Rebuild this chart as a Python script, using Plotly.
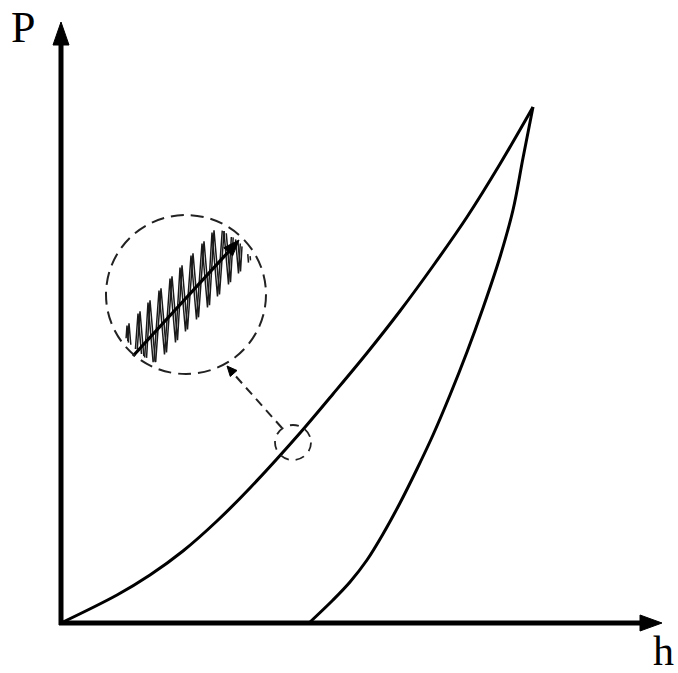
import math
import plotly.graph_objects as go

# ---- data (h, P) in drawing units; origin at the axes corner ----
load_h = [0, 56, 89, 122, 156, 189, 239, 272, 306, 339, 372, 406, 439, 472]
load_P = [0, 28, 48, 72, 102, 135, 190, 229, 270, 312, 357, 406, 459, 516]

unload_h = [248, 272, 289, 306, 322, 339, 356, 372, 389, 406, 422, 439, 452, 462, 472]
unload_P = [0, 23, 41, 63, 89, 120, 154, 188, 228, 271, 315, 366, 413, 465, 516]

# inset (magnified loading segment) : tooth tip positions along h
tooth_h = [55, 66, 77, 87, 98, 109, 119, 130, 141, 151, 162, 172, 182]
inset_start = (72, 267)
inset_end = (178, 383)
inset_circle = (125, 328, 80)  # centre h, centre P, radius

XR = [-61, 617]
YR = [-50, 623]

fig = go.Figure()

fig.add_trace(go.Scatter(x=load_h, y=load_P, mode="lines",
                         line=dict(color="black", width=3, shape="spline", smoothing=1.0),
                         hoverinfo="skip", showlegend=False))
fig.add_trace(go.Scatter(x=unload_h, y=unload_P, mode="lines",
                         line=dict(color="black", width=3, shape="spline", smoothing=1.0),
                         hoverinfo="skip", showlegend=False))

# zigzag in the inset, clipped to the dashed circle
slope = (inset_end[1] - inset_start[1]) / (inset_end[0] - inset_start[0])
def centre(h):
    return inset_start[1] + slope * (h - inset_start[0])
cx, cy, cr = inset_circle
rin = cr - 5

def zigzag(shift):
    verts = []
    for t in tooth_h:
        verts.append((t + shift, centre(t + shift) + 37))
        verts.append((t + 5.5 + shift, centre(t + 5.5 + shift) - 33))
    zx, zy = [], []
    prev_in = False
    for (x0, y0), (x1, y1) in zip(verts[:-1], verts[1:]):
        n = 30
        for k in range(n + 1):
            x = x0 + (x1 - x0) * k / n
            y = y0 + (y1 - y0) * k / n
            inside = (x - cx) ** 2 + (y - cy) ** 2 <= rin ** 2
            if inside:
                zx.append(x); zy.append(y)
            elif prev_in:
                zx.append(None); zy.append(None)
            prev_in = inside
    return zx, zy

for s in (0.0, 2.0):
    zx, zy = zigzag(s)
    fig.add_trace(go.Scatter(x=zx, y=zy, mode="lines",
                             line=dict(color="#1a1a1a", width=1.5),
                             hoverinfo="skip", showlegend=False, connectgaps=False))
fig.add_trace(go.Scatter(x=[inset_start[0], inset_end[0] - 8], y=[inset_start[1], inset_end[1] - 9],
                         mode="lines", line=dict(color="black", width=3.2),
                         hoverinfo="skip", showlegend=False))

shapes = []
# axes
shapes.append(dict(type="line", x0=0, y0=-2, x1=0, y1=580, line=dict(color="black", width=5)))
shapes.append(dict(type="path", path="M -8 578 L 8 578 L 0 601 Z",
                   fillcolor="black", line=dict(color="black", width=1)))
shapes.append(dict(type="line", x0=-2, y0=0, x1=581, y1=0, line=dict(color="black", width=5)))
shapes.append(dict(type="path", path="M 579 -8 L 579 8 L 601 0 Z",
                   fillcolor="black", line=dict(color="black", width=1)))

# inset arrow head
ang = math.atan2(inset_end[1] - inset_start[1], inset_end[0] - inset_start[0])
L, W = 16, 6
bx = inset_end[0] - L * math.cos(ang); by = inset_end[1] - L * math.sin(ang)
px_, py_ = -math.sin(ang) * W, math.cos(ang) * W
shapes.append(dict(type="path",
                   path=f"M {inset_end[0]} {inset_end[1]} L {bx+px_} {by+py_} L {bx-px_} {by-py_} Z",
                   fillcolor="black", line=dict(color="black", width=1)))

# big dashed circle
shapes.append(dict(type="circle", x0=cx - cr, x1=cx + cr, y0=cy - cr + 1, y1=cy + cr,
                   line=dict(color="#222", width=2, dash="13px,7px")))
# small dashed circle
shapes.append(dict(type="circle", x0=214, x1=250, y0=163, y1=198,
                   line=dict(color="#222", width=1.8, dash="9px,7px")))
# dashed connector
shapes.append(dict(type="line", x0=221, y0=195, x1=171, y1=251,
                   line=dict(color="#222", width=2, dash="9px,6px")))
cang = math.atan2(257 - 195, 166 - 221)
L2, W2 = 10, 4.5
cbx = 166 - L2 * math.cos(cang); cby = 257 - L2 * math.sin(cang)
cpx, cpy = -math.sin(cang) * W2, math.cos(cang) * W2
shapes.append(dict(type="path",
                   path=f"M 166 257 L {cbx+cpx} {cby+cpy} L {cbx-cpx} {cby-cpy} Z",
                   fillcolor="black", line=dict(color="black", width=1)))

annotations = [
    dict(x=-38, y=622, text="P", showarrow=False, xanchor="center", yanchor="top",
         font=dict(family="Liberation Serif", size=44, color="black")),
    dict(x=602, y=-28, text="h", showarrow=False, xanchor="center", yanchor="middle",
         font=dict(family="Liberation Serif", size=42, color="black")),
]

fig.update_layout(
    width=678, height=673,
    margin=dict(l=0, r=0, t=0, b=0),
    paper_bgcolor="white", plot_bgcolor="white",
    xaxis=dict(range=XR, visible=False, fixedrange=True),
    yaxis=dict(range=YR, visible=False, fixedrange=True),
    shapes=shapes, annotations=annotations,
    showlegend=False,
)

fig.write_html("out.html", config={"displayModeBar": False},
               post_script="document.body.style.margin='0px';document.body.style.overflow='hidden';")
